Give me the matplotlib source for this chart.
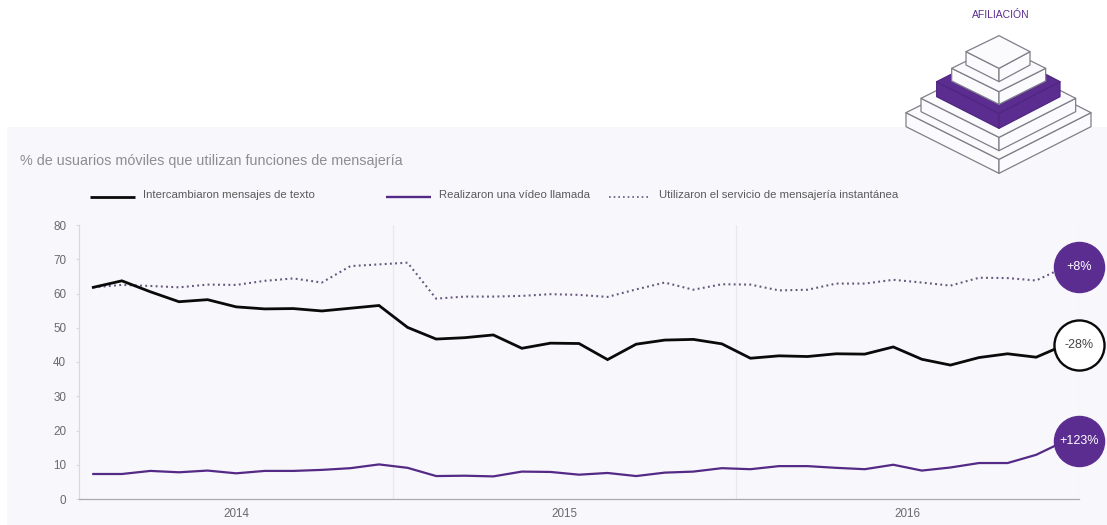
import matplotlib
matplotlib.use("Agg")
import matplotlib.pyplot as plt
from matplotlib.patches import Polygon, Rectangle

plt.rcParams['font.family'] = ['Liberation Sans', 'DejaVu Sans']

W = 1107
H = 525

# monthly values, one per month, oldest first
texto = [61.8, 63.7, 60.5, 57.6, 58.2, 56.1, 55.5, 55.6, 54.9, 55.7, 56.5,
         50.1, 46.7, 47.1, 47.9, 44.0, 45.5, 45.4, 40.7, 45.2, 46.4, 46.6, 45.3,
         41.1, 41.8, 41.6, 42.4, 42.3, 44.4, 40.8, 39.1, 41.3, 42.4, 41.4, 45.0]
video = [7.3, 7.3, 8.2, 7.8, 8.3, 7.5, 8.2, 8.2, 8.5, 9.0, 10.1,
         9.1, 6.7, 6.8, 6.6, 8.0, 7.9, 7.1, 7.6, 6.7, 7.7, 8.0, 9.0,
         8.7, 9.6, 9.6, 9.1, 8.7, 10.0, 8.3, 9.2, 10.5, 10.5, 12.9, 16.9]
mensajeria = [61.8, 62.5, 62.2, 61.8, 62.6, 62.5, 63.7, 64.4, 63.2, 68.0, 68.5,
              69.0, 58.5, 59.1, 59.1, 59.3, 59.8, 59.6, 59.0, 61.2, 63.2, 61.1, 62.7,
              62.6, 60.9, 61.1, 62.9, 62.9, 64.0, 63.2, 62.3, 64.6, 64.5, 63.8, 67.7]
meses = list(range(len(texto)))

y_ticks = [0, 10, 20, 30, 40, 50, 60, 70, 80]
anios = ['2014', '2015', '2016']
# first and last month of each year
anio_rango = [(0, 10), (11, 22), (23, 34)]

labels = ['Intercambiaron mensajes de texto', 'Realizaron una vídeo llamada',
          'Utilizaron el servicio de mensajería instantánea']
badges = ['-28%', '+123%', '+8%']

MORADO = '#5c2d91'
LINEA_MORADA = '#542a86'
NEGRO = '#0a0a0a'
DOTTED = '#65567c'
PANEL = '#f8f8fc'

fig = plt.figure(figsize=(W / 100, H / 100), dpi=100, facecolor='white')

# full figure layer in pixel coordinates for panel, title, legend and icon
bg = fig.add_axes([0, 0, 1, 1], zorder=0)
bg.set_xlim(0, W)
bg.set_ylim(H, 0)
bg.axis('off')
bg.add_patch(Rectangle((7, 127), W - 7, H - 127, fc=PANEL, ec='none'))

bg.text(20, 161, '% de usuarios móviles que utilizan funciones de mensajería',
        fontsize=10.35, color='#8e8e92', va='center', ha='left')

bg.plot([90, 135], [197, 197], color=NEGRO, lw=2.0, solid_capstyle='butt')
bg.text(143, 195.5, labels[0], fontsize=8.2, color='#5a5a5a', va='center')
bg.plot([386, 431], [197, 197], color=LINEA_MORADA, lw=1.7, solid_capstyle='butt')
bg.text(439, 195.5, labels[1], fontsize=8.2, color='#5a5a5a', va='center')
bg.plot([609, 650], [197, 197], color=DOTTED, lw=1.2, linestyle=(0, (1.0, 1.8)))
bg.text(659, 195.5, labels[2], fontsize=8.2, color='#5a5a5a', va='center')


def capa(left, front, right, back, depth, color, edge):
    # one slab of the icon: two side faces and the top, in 3x crop units
    def pt(p):
        return (880 + p[0] / 3, p[1] / 3)
    d = (0, depth)
    add = lambda a, b: (a[0] + b[0], a[1] + b[1])
    caras = [[left, front, add(front, d), add(left, d)],
             [right, front, add(front, d), add(right, d)],
             [left, front, right, back]]
    for c in caras:
        bg.add_patch(Polygon([pt(p) for p in c], closed=True, fc=color, ec=edge,
                             lw=0.9, joinstyle='round'))


GRIS_ICONO = '#7f7f89'
capa((78, 338), (357, 478), (633, 338), (357, 198), 42, '#fbfbfe', GRIS_ICONO)
capa((123, 295), (357, 412), (587, 295), (357, 178), 40, '#fbfbfe', GRIS_ICONO)
capa((170, 245), (357, 340), (540, 245), (357, 150), 45, MORADO, '#4f2680')
capa((215, 205), (357, 275), (497, 205), (357, 135), 38, '#fbfbfe', GRIS_ICONO)
capa((258, 155), (357, 205), (450, 155), (357, 107), 40, '#fbfbfe', GRIS_ICONO)
bg.text(1001, 15.5, 'AFILIACIÓN', fontsize=7.5, color=MORADO, ha='center', va='center')

# main chart
ax = fig.add_axes([79 / W, 1 - 499 / H, 1000 / W, 274 / H], zorder=1)
ax.patch.set_alpha(0)
ax.set_xlim(-0.5, len(meses) - 0.5)
ax.set_ylim(0, 80)

for s in ['top', 'right']:
    ax.spines[s].set_visible(False)
ax.spines['left'].set_color('#d8d8de')
ax.spines['left'].set_linewidth(0.9)
ax.spines['bottom'].set_color('#a9a9ae')
ax.spines['bottom'].set_linewidth(0.9)

ax.set_yticks(y_ticks)
ax.tick_params(axis='y', length=2.2, width=0.8, color='#d8d8de', pad=7,
               labelsize=8.4, labelcolor='#6a6a6a')
ax.set_xticks([])

# year separators and year names
for a, b in anio_rango:
    ax.axvline(b + 0.5, color='#e8e8ee', lw=0.9, zorder=1)
for nombre, (a, b) in zip(anios, anio_rango):
    ax.annotate(nombre, ((a + b) / 2, 0), xytext=(0, -15), textcoords='offset pixels',
                ha='center', va='center', fontsize=8.4, color='#6a6a6a',
                annotation_clip=False)

ax.plot(meses, mensajeria, color=DOTTED, lw=1.5, linestyle=(0, (0.9, 1.6)), zorder=2)
ax.plot(meses, texto, color=NEGRO, lw=2.0, zorder=3, solid_joinstyle='miter')
ax.plot(meses, video, color=LINEA_MORADA, lw=1.6, zorder=3, solid_joinstyle='miter')

# change badges sit on the right edge, at each series' last value
borde = len(meses) - 0.5
for serie, txt, fc, ec, tc in [(texto, badges[0], 'white', '#0a0a0a', '#444444'),
                               (video, badges[1], MORADO, MORADO, 'white'),
                               (mensajeria, badges[2], MORADO, MORADO, 'white')]:
    lw = 1.7 if fc == 'white' else 1.0
    ax.scatter([borde], [serie[-1]], s=1300, facecolor=fc, edgecolor=ec, linewidth=lw,
               zorder=5, clip_on=False)
    ax.text(borde, serie[-1], txt, ha='center', va='center', color=tc, fontsize=9,
            zorder=6, clip_on=False)

fig.savefig('out.png', dpi=100)
